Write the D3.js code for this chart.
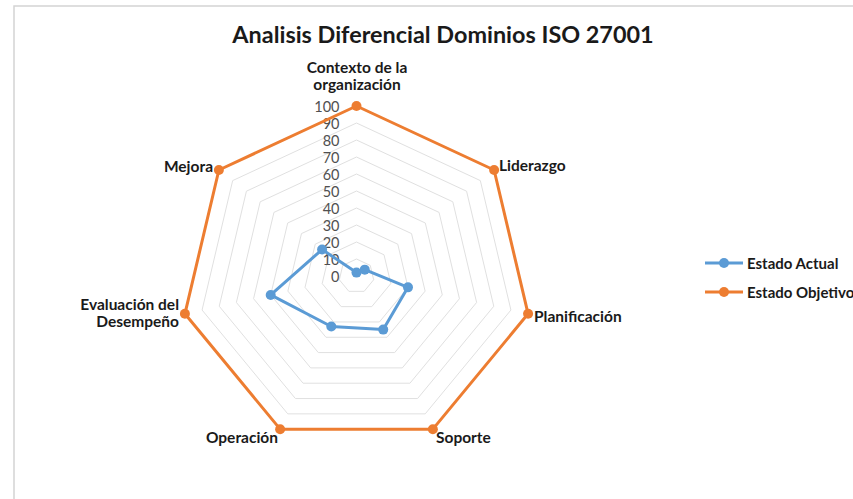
<!DOCTYPE html>
<html>
<head>
<meta charset="utf-8">
<script src="https://cdn.jsdelivr.net/npm/d3@7"></script>
<style>
  html, body { margin: 0; padding: 0; background: #fff; }
  svg { display: block; }
  text { font-family: Lato, "Open Sans", sans-serif; }
</style>
</head>
<body>
<svg id="chart" width="853" height="499"></svg>
<script>
const title = "Analisis Diferencial Dominios ISO 27001";
const categories = [
  ["Contexto de la", "organización"],
  ["Liderazgo"],
  ["Planificación"],
  ["Soporte"],
  ["Operación"],
  ["Evaluación del", "Desempeño"],
  ["Mejora"]
];
const estadoActual   = [2, 6, 30, 35, 33, 50, 25];
const estadoObjetivo = [100, 100, 100, 100, 100, 100, 100];
const seriesNames = ["Estado Actual", "Estado Objetivo"];
const seriesColors = ["#5B9BD5", "#ED7D31"];
const tickValues = [0, 10, 20, 30, 40, 50, 60, 70, 80, 90, 100];

const svg = d3.select("#chart");
const W = 853, H = 499;

// chart border
svg.append("rect").attr("x", 14).attr("y", 6).attr("width", W).attr("height", H)
  .attr("fill", "#fff").attr("stroke", "#d4d4d4").attr("stroke-width", 1.5);

const cx = 356.5, cy = 276;
const rx = d3.scaleLinear().domain([0, 100]).range([0, 176]);
const ry = d3.scaleLinear().domain([0, 100]).range([0, 170]);
const n = categories.length;
const angle = d3.scaleLinear().domain([0, n]).range([0, 2 * Math.PI]);
const px = (i, v) => cx + rx(v) * Math.sin(angle(i));
const py = (i, v) => cy - ry(v) * Math.cos(angle(i));

// grid heptagons
const g = svg.append("g");
tickValues.filter(t => t > 0).forEach(t => {
  const pts = d3.range(n).map(i => [px(i, t), py(i, t)]);
  g.append("path")
    .attr("d", d3.line().curve(d3.curveLinearClosed)(pts))
    .attr("fill", "none").attr("stroke", "#e0e0e0").attr("stroke-width", 1);
});

// tick labels
tickValues.forEach(t => {
  g.append("text").attr("x", cx - 17).attr("y", py(0, t))
    .attr("text-anchor", "end").attr("dominant-baseline", "central")
    .attr("font-size", 14.5).attr("fill", "#505050").text(t);
});

// series
[estadoActual, estadoObjetivo].forEach((vals, s) => {
  const pts = vals.map((v, i) => [px(i, v), py(i, v)]);
  svg.append("path")
    .attr("d", d3.line().curve(d3.curveLinearClosed)(pts))
    .attr("fill", "none").attr("stroke", seriesColors[s]).attr("stroke-width", 3)
    .attr("stroke-linejoin", "round");
  svg.selectAll(null).data(pts).enter().append("circle")
    .attr("cx", d => d[0]).attr("cy", d => d[1]).attr("r", 5)
    .attr("fill", seriesColors[s]);
});

// category labels
const labelPos = [
  {x: 357, y: 73, anchor: "middle"},
  {x: 499, y: 171, anchor: "start"},
  {x: 534, y: 322, anchor: "start"},
  {x: 436, y: 443, anchor: "start"},
  {x: 278, y: 443, anchor: "end"},
  {x: 179, y: 310, anchor: "end"},
  {x: 213, y: 172, anchor: "end"}
];
categories.forEach((lines, i) => {
  const p = labelPos[i];
  const t = svg.append("text").attr("x", p.x).attr("y", p.y)
    .attr("text-anchor", p.anchor).attr("font-size", 15.5)
    .attr("font-weight", "bold").attr("fill", "#1a1a1a");
  lines.forEach((l, k) => {
    t.append("tspan").attr("x", p.x).attr("dy", k === 0 ? 0 : 17).text(l);
  });
});

// title
svg.append("text").attr("x", 443).attr("y", 43).attr("text-anchor", "middle")
  .attr("font-size", 23.4).attr("font-weight", "bold").attr("fill", "#1a1a1a")
  .text(title);

// legend
seriesNames.forEach((name, s) => {
  const y = 263 + s * 29;
  svg.append("line").attr("x1", 705).attr("x2", 743).attr("y1", y).attr("y2", y)
    .attr("stroke", seriesColors[s]).attr("stroke-width", 3);
  svg.append("circle").attr("cx", 724).attr("cy", y).attr("r", 5).attr("fill", seriesColors[s]);
  svg.append("text").attr("x", 747).attr("y", y).attr("dominant-baseline", "central")
    .attr("font-size", 15).attr("font-weight", "bold").attr("fill", "#1a1a1a").text(name);
});
</script>
</body>
</html>
